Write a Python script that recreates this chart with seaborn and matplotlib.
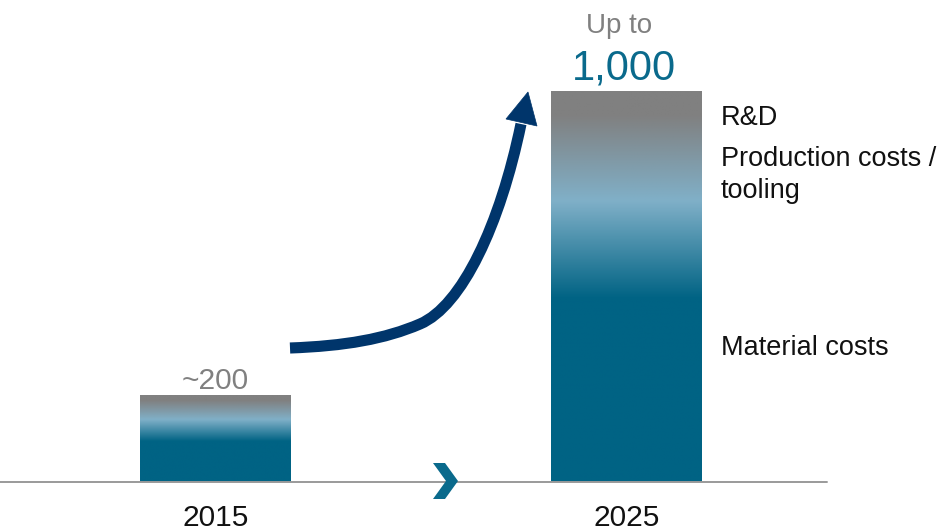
import numpy as np
import pandas as pd
import matplotlib
matplotlib.use("Agg")
import matplotlib.pyplot as plt
import seaborn as sns
from matplotlib.colors import LinearSegmentedColormap
from matplotlib.path import Path
from matplotlib.patches import PathPatch, Polygon

# ---- data ----
years = ["2015", "2025"]
values = [222, 1000]            # bar heights as drawn
value_labels = ["~200", "1,000"]
cost_labels = ["R&D", "Production costs /", "tooling", "Material costs"]
cost_label_y = [913, 808, 726, 325]

GREY = "#808080"
LIGHT = "#80B0C8"
TEAL = "#006384"
NAVY = "#00356B"

sns.set_theme(style="white")
plt.rcParams["font.family"] = ["Liberation Sans", "DejaVu Sans"]

W, H = 948, 530
fig = plt.figure(figsize=(W / 100, H / 100), dpi=100)
ax = fig.add_axes([0, 48 / H, 827 / W, 391 / H])

df = pd.DataFrame({"year": years, "value": values})
bar_w = 151 / 411
sns.barplot(data=df, x="year", y="value", width=bar_w, color=TEAL, ax=ax,
            saturation=1)

cmap = LinearSegmentedColormap.from_list(
    "grad", [(0.0, GREY), (0.06, GREY), (0.28, LIGHT), (0.53, TEAL), (1.0, TEAL)])
grad = np.linspace(0, 1, 512).reshape(-1, 1)
for p in ax.patches:
    x0, y0 = p.get_x(), p.get_y()
    w, h = p.get_width(), p.get_height()
    p.set_facecolor("none")
    p.set_edgecolor("none")
    im = ax.imshow(grad, cmap=cmap, aspect="auto", origin="upper",
                   extent=[x0, x0 + w, y0, y0 + h], interpolation="bilinear",
                   zorder=2)
    im.set_clip_path(p)

ax.set_xlim(-215.5 / 411, (827 - 215.5) / 411)
ax.set_ylim(0, 1000)
sns.despine(ax=ax, left=True, bottom=True, top=True, right=True)
ax.set_yticks([])
ax.set_xlabel("")
ax.set_ylabel("")
ax.axhline(0, color="#9a9a9a", lw=1.4, zorder=3, clip_on=False)
ax.tick_params(axis="x", length=0, pad=15.5, labelsize=21.5, labelcolor="#111111")
ax.set_facecolor("none")

# value labels
ax.annotate(value_labels[0], xy=(0, values[0]), xytext=(0, 4.5),
            textcoords="offset points", ha="center", va="baseline",
            fontsize=21.5, color=GREY)
ax.annotate(value_labels[1], xy=(1, values[1]), xytext=(-2, 8),
            textcoords="offset points", ha="center", va="baseline",
            fontsize=30, color="#0A6A8C")
ax.annotate("Up to", xy=(1, values[1]), xytext=(-5, 42),
            textcoords="offset points", ha="center", va="baseline",
            fontsize=20, color=GREY)

# cost component labels to the right of 2025 bar
lx = 1 + bar_w / 2 + 19 / 411
for lab, yy in zip(cost_labels, cost_label_y):
    ax.text(lx, yy, lab, ha="left", va="baseline", fontsize=19.5,
            color="#111111")

# overlay for decorations (arrow, chevron) in pixel space
ov = fig.add_axes([0, 0, 1, 1])
ov.set_xlim(0, W)
ov.set_ylim(H, 0)
ov.axis("off")
ov.patch.set_alpha(0)

verts = [(290, 348), (345, 346), (385, 339), (420, 324),
         (462, 306), (500, 225), (521, 124)]
codes = [Path.MOVETO, Path.CURVE4, Path.CURVE4, Path.CURVE4,
         Path.CURVE4, Path.CURVE4, Path.CURVE4]
ov.add_patch(PathPatch(Path(verts, codes), facecolor="none", edgecolor=NAVY,
                       lw=8, capstyle="butt"))
ov.add_patch(Polygon([(506, 119), (537, 126), (528, 92)], closed=True,
                     facecolor=NAVY, edgecolor=NAVY, lw=0.5))

ov.add_patch(Polygon([(433, 463), (445, 463), (458, 481), (445, 499),
                      (433, 499), (446, 481)], closed=True,
                     facecolor="#0A6A8C", edgecolor="none"))

fig.savefig("out.png", dpi=100)
